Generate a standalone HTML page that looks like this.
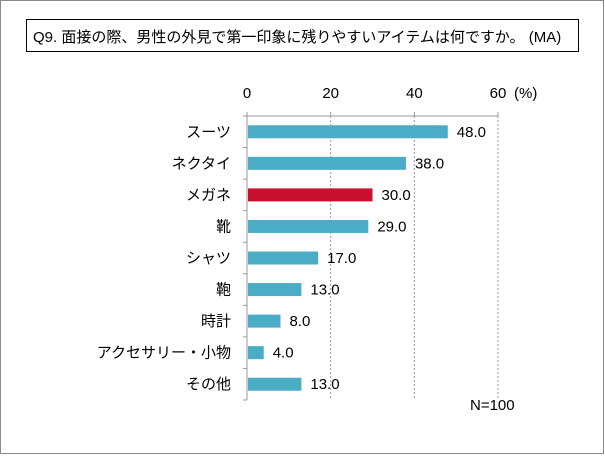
<!DOCTYPE html>
<html><head><meta charset="utf-8"><style>
body{margin:0;background:#fff}
svg text{font-family:"Liberation Sans","Noto Sans CJK JP",sans-serif;fill:#000}
</style></head><body>
<svg width="605" height="455">
<rect x="0.5" y="0.5" width="603" height="453" fill="#fff" stroke="#888"/>
<rect x="26.5" y="19.5" width="552" height="32" fill="#fff" stroke="#000"/>
<text x="33" y="42" font-size="15">Q9. 面接の際、男性の外見で第一印象に残りやすいアイテムは何ですか。 (MA)</text>
<g id="plot"></g>
<text x="470" y="410" font-size="15">N=100</text>
</svg>
<script>
const categories=["スーツ","ネクタイ","メガネ","靴","シャツ","鞄","時計","アクセサリー・小物","その他"];
const values=[48.0,38.0,30.0,29.0,17.0,13.0,8.0,4.0,13.0];
const highlight=[false,false,true,false,false,false,false,false,false];
const ticks=[0,20,40,60];
const x0=247,x1=498,plotTop=116,plotBottom=400,maxV=60;
const xs=v=>x0+(x1-x0)*v/maxV;
const bandH=(plotBottom-plotTop)/categories.length;
const g=document.getElementById('plot');
const NS='http://www.w3.org/2000/svg';
function mk(t,a){const e=document.createElementNS(NS,t);for(const k in a)e.setAttribute(k,a[k]);g.appendChild(e);return e;}
ticks.forEach(t=>{
  if(t>0){const l=mk('line',{x1:xs(t),x2:xs(t),y1:plotTop,y2:plotBottom,stroke:'#999','stroke-dasharray':'2,2'});
  
  }
  const tk=mk('line',{x1:xs(t),x2:xs(t),y1:plotTop-4,y2:plotTop,stroke:'#999'});
  
  
  const tx=mk('text',{x:xs(t),y:plotTop-18,'font-size':15,'text-anchor':'middle'});
  tx.textContent=t;
  
  
});
const pc=mk('text',{x:xs(60)+16,y:plotTop-18,'font-size':15});
pc.textContent='(%)';


const ax=mk('line',{x1:x0,x2:x0,y1:plotTop,y2:plotBottom,stroke:'#999'});


const axt=mk('line',{x1:x0,x2:xs(60),y1:plotTop,y2:plotTop,stroke:'#999'});


for(let i=0;i<=categories.length;i++){
  const y=plotTop+i*bandH;
  const t=mk('line',{x1:x0-4,x2:x0,y1:y,y2:y,stroke:'#999'});
  
  
}
categories.forEach((c,i)=>{
  const cy=plotTop+(i+0.5)*bandH;
  const b=mk('rect',{x:x0+1,y:cy-6.5,width:xs(values[i])-x0-1,height:13,fill:highlight[i]?'#c8102e':'#4bacc6'});
  
  
  const l=mk('text',{x:x0-16,y:cy+5,'font-size':15,'text-anchor':'end'});
  l.textContent=c;
  
  
  const v=mk('text',{x:xs(values[i])+9,y:cy+5,'font-size':15});
  v.textContent=values[i].toFixed(1);
  
  
});
</script>
</body></html>
